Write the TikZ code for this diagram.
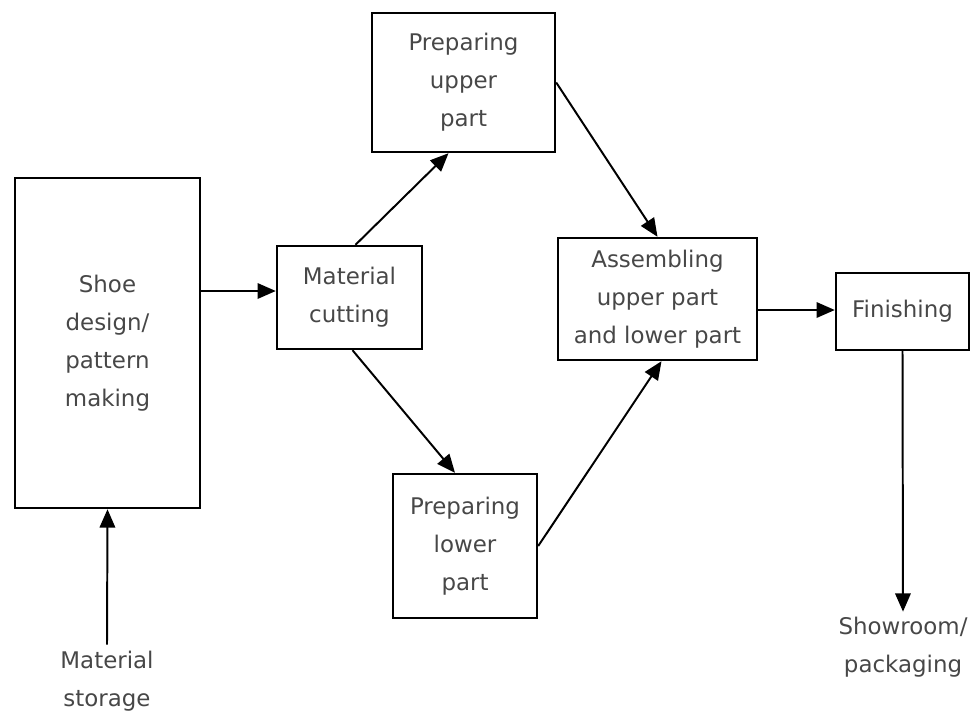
\documentclass[tikz,border=0pt]{standalone}
\usepackage{fontspec}
\setmainfont{DejaVu Sans}
\usetikzlibrary{calc,arrows.meta}
\begin{document}
\begin{tikzpicture}[x=0.025cm,y=-0.025cm,
        box/.style={draw,line width=1.7pt,align=center,inner sep=0pt,text=black!72,
            font=\fontsize{16.3}{27}\selectfont},
        label/.style={align=center,inner sep=0pt,text=black!72,
            font=\fontsize{16.3}{27}\selectfont},
        flow/.style={-{Triangle[length=13pt,width=11pt]},line width=1.4pt}]
    \useasboundingbox (0,0) rectangle (974,713);
    \node[box,minimum width=4.625cm,minimum height=8.25cm] (design) at (107.5,343) {Shoe\\design/\\pattern\\making};
    \node[box,minimum width=3.625cm,minimum height=2.575cm] (cutting) at (349.5,297.5) {Material\\cutting};
    \node[box,minimum width=4.575cm,minimum height=3.475cm] (upper) at (463.5,82.5) {Preparing\\upper\\part};
    \node[box,minimum width=3.6cm,minimum height=3.6cm] (lower) at (465,546) {Preparing\\lower\\part};
    \node[box,minimum width=4.975cm,minimum height=3.05cm] (assemble) at (657.5,299) {Assembling\\upper part\\and lower part};
    \node[box,minimum width=3.325cm,minimum height=1.925cm] (finish) at (902.5,311.5) {Finishing};
    \node[label] (storage) at (107,681) {Material\\storage};
    \node[label] (showroom) at (903,647) {Showroom/\\packaging};
    \draw[flow] (design.east |- 0,291) -- (cutting.west |- 0,291);
    \draw[flow] ($(cutting.north)+(6,0)$) -- ($(upper.south)+(-15,0)$);
    \draw[flow] ($(cutting.south)+(3,0)$) -- ($(lower.north)+(-10,0)$);
    \draw[flow] (upper.east) -- (assemble.north);
    \draw[flow] (lower.east) -- ($(assemble.south)+(4,0)$);
    \draw[flow] (assemble.east |- 0,310) -- (finish.west |- 0,310);
    \draw[flow] (finish.south) -- ($(showroom.north)+(0,-5)$);
    \draw[flow] ($(storage.north)+(0,-6)$) -- (design.south);
\end{tikzpicture}
\end{document}
